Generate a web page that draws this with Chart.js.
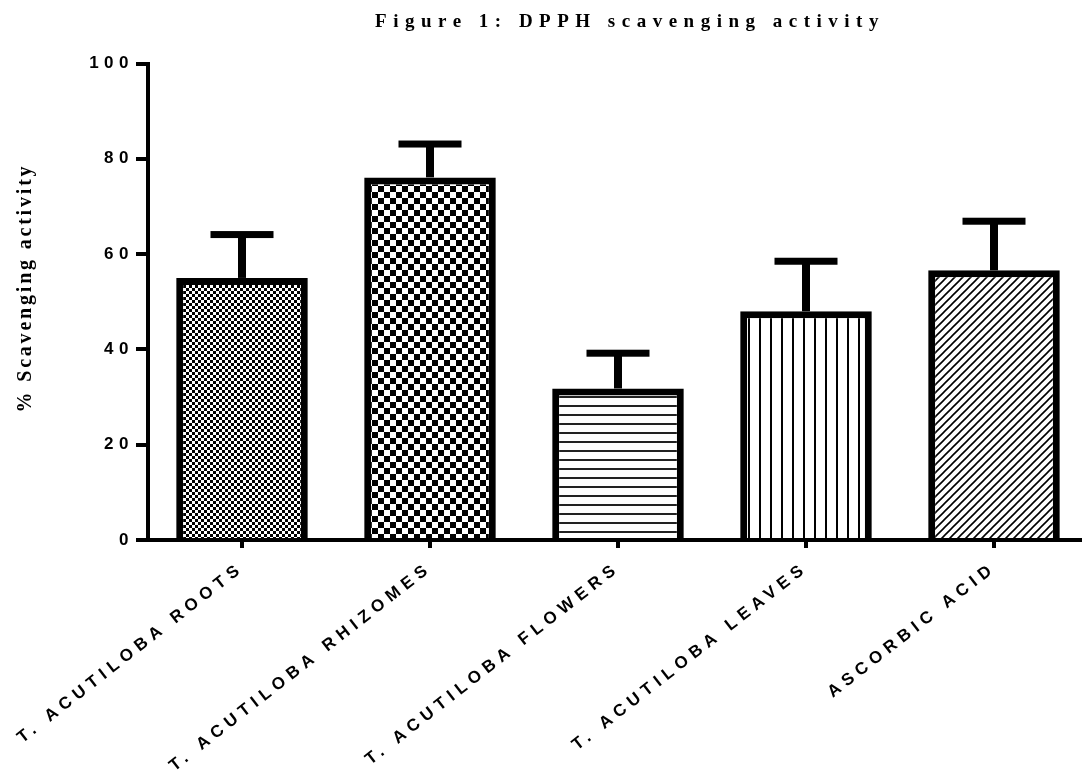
<!DOCTYPE html>
<html>
<head>
<meta charset="utf-8">
<script src="https://cdn.jsdelivr.net/npm/chart.js@4/dist/chart.umd.min.js"></script>
<style>
html,body{margin:0;padding:0;background:#fff;overflow:hidden;width:1082px;height:776px;}
canvas{display:block;}
</style>
</head>
<body>
<canvas id="c" width="1092" height="776" style="width:1092px;height:776px"></canvas>
<script>
const chartTitle = 'Figure 1: DPPH scavenging activity';
const yAxisTitle = '% Scavenging activity';
const categories = ['T. ACUTILOBA ROOTS','T. ACUTILOBA RHIZOMES','T. ACUTILOBA FLOWERS','T. ACUTILOBA LEAVES','ASCORBIC ACID'];
const meanValues = [55.0, 76.1, 31.8, 48.0, 56.6];
const sdValues = [9.1, 7.0, 7.4, 10.5, 10.3];
const yMin = 0, yMax = 100, yStep = 20;

const canvas = document.getElementById('c');
const ctx = canvas.getContext('2d');

function makePattern(w, h, draw) {
  const c = document.createElement('canvas');
  c.width = w; c.height = h;
  const g = c.getContext('2d');
  g.fillStyle = '#fff'; g.fillRect(0, 0, w, h);
  g.fillStyle = '#000'; g.strokeStyle = '#000';
  draw(g, w, h);
  return ctx.createPattern(c, 'repeat');
}
const patterns = [
  makePattern(6, 6, g => { g.fillRect(0,0,3,3); g.fillRect(3,3,3,3); }),
  makePattern(12, 12, g => { g.fillRect(0,0,6,6); g.fillRect(6,6,6,6); }),
  makePattern(9, 9, g => { g.fillStyle='#222'; g.fillRect(0,0,9,2); }),
  makePattern(11, 11, g => { g.fillRect(0,0,2,11); }),
  makePattern(8, 8, g => {
    g.lineWidth = 1.6;
    g.beginPath();
    g.moveTo(-1, 9); g.lineTo(9, -1);
    g.moveTo(-5, 5); g.lineTo(5, -5);
    g.moveTo(3, 13); g.lineTo(13, 3);
    g.stroke();
  })
];

const customPlugin = {
  id: 'custom',
  beforeLayout(chart) { chart.ctx.letterSpacing = '5.5px'; },
  beforeDraw(chart) { chart.ctx.letterSpacing = '5.5px'; },
  afterDatasetsDraw(chart) {
    const c = chart.ctx;
    const meta = chart.getDatasetMeta(0);
    const ys = chart.scales.y;
    c.save();
    c.fillStyle = '#000';
    meta.data.forEach((bar, i) => {
      const x = bar.x;
      const yBar = bar.y;
      const yTop = ys.getPixelForValue(meanValues[i] + sdValues[i]);
      c.fillRect(x - 4, yTop, 8, yBar - yTop);
      c.fillRect(x - 31.5, yTop - 3.5, 63, 7);
    });
    c.restore();
  },
  afterDraw(chart) {
    const c = chart.ctx;
    c.save();
    c.fillStyle = '#000';
    c.letterSpacing = '6.5px';
    c.font = 'bold 19px "Liberation Serif"';
    c.textAlign = 'center';
    c.textBaseline = 'middle';
    c.fillText(chartTitle, 630, 22);
    c.letterSpacing = '2.8px';
    c.font = 'bold 20px "Liberation Serif"';
    c.translate(26, 288);
    c.rotate(-Math.PI / 2);
    c.fillText(yAxisTitle, 0, 0);
    c.restore();
  }
};

new Chart(ctx, {
  type: 'bar',
  data: {
    labels: categories,
    datasets: [{
      data: meanValues,
      backgroundColor: patterns,
      borderColor: '#000',
      borderWidth: 7,
      borderSkipped: 'start',
      barPercentage: 0.70,
      categoryPercentage: 1.0
    }]
  },
  options: {
    responsive: false,
    devicePixelRatio: 1,
    animation: false,
    layout: { padding: { top: 63.5, right: 4, left: 0, bottom: 0 } },
    plugins: { legend: { display: false }, title: { display: false }, tooltip: { enabled: false } },
    scales: {
      x: {
        z: 1,
        offset: true,
        grid: { offset: false, drawOnChartArea: false, drawTicks: true, tickLength: 8, lineWidth: 4, color: '#000' },
        border: { display: true, width: 4, color: '#000' },
        ticks: {
          color: '#000',
          font: { family: '"Liberation Sans", Arial', size: 17, weight: 'bold' },
          minRotation: 38, maxRotation: 38,
          padding: 10,
          autoSkip: false
        },
        afterFit(scale) { scale.height = 776 - 540; scale.paddingLeft = 0; scale.paddingRight = 0; }
      },
      y: {
        z: 1,
        min: yMin, max: yMax,
        grid: { drawOnChartArea: false, drawTicks: true, tickLength: 12, lineWidth: 4, color: '#000' },
        border: { display: true, width: 4, color: '#000' },
        ticks: {
          stepSize: yStep,
          color: '#000',
          font: { family: '"Liberation Sans", Arial', size: 17, weight: 'bold' },
          padding: 2
        },
        afterFit(scale) { scale.width = 148; scale.paddingTop = 0; scale.paddingBottom = 0; }
      }
    }
  },
  plugins: [customPlugin]
});
</script>
</body>
</html>
